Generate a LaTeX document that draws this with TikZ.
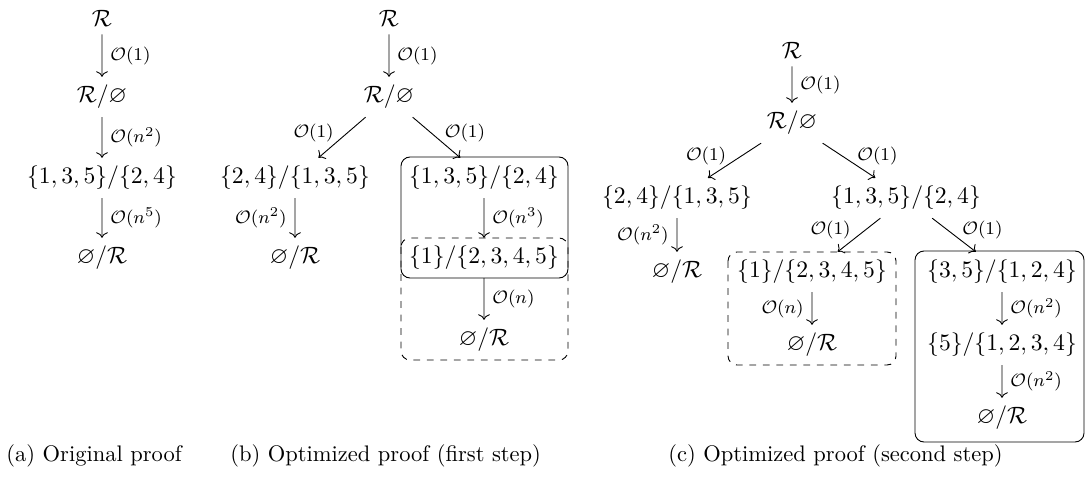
\documentclass[tikz,border=0pt]{standalone}
\usepackage{amsmath,amssymb}
\usepackage{tikz}
\usetikzlibrary{arrows.meta,positioning}

\begin{document}
\begin{tikzpicture}[x=0.4444pt, y=-0.4444pt,
    setnode/.style={font=\normalsize, scale=1.05},
    cost/.style={font=\footnotesize, inner sep=3.5pt},
    proofbox/.style={rounded corners=4pt},
    caption/.style={anchor=base west, inner sep=0pt}]
    \useasboundingbox (0,0) rectangle (1085,479);

    % (a) Original proof
    \node[setnode] (a0) at (102,18) {$\mathcal{R}$};
    \node[setnode] (a1) at (102,97) {$\mathcal{R}/\varnothing$};
    \node[setnode] (a2) at (102,178) {$\{1,3,5\}/\{2,4\}$};
    \node[setnode] (a3) at (102,258) {$\varnothing/\mathcal{R}$};
    \draw[->] (a0) -- node[cost, right] {$\mathcal{O}(1)$} (a1);
    \draw[->] (a1) -- node[cost, right] {$\mathcal{O}(n^2)$} (a2);
    \draw[->] (a2) -- node[cost, right] {$\mathcal{O}(n^5)$} (a3);

    % (b) Optimized proof (first step)
    \node[setnode] (b0) at (389,18) {$\mathcal{R}$};
    \node[setnode] (b1) at (389,97) {$\mathcal{R}/\varnothing$};
    \node[setnode] (b2) at (295,178) {$\{2,4\}/\{1,3,5\}$};
    \node[setnode] (b3) at (295,258) {$\varnothing/\mathcal{R}$};
    \node[setnode] (b4) at (484,178) {$\{1,3,5\}/\{2,4\}$};
    \node[setnode] (b5) at (484,258) {$\{1\}/\{2,3,4,5\}$};
    \node[setnode] (b6) at (484,340) {$\varnothing/\mathcal{R}$};
    \draw[->] (b0) -- node[cost, right] {$\mathcal{O}(1)$} (b1);
    \draw[->] (b1) -- node[cost, left, yshift=2.2pt] {$\mathcal{O}(1)$} (b2);
    \draw[->] (b1) -- node[cost, right, yshift=2.2pt] {$\mathcal{O}(1)$} (b4);
    \draw[->] (b2) -- node[cost, left] {$\mathcal{O}(n^2)$} (b3);
    \draw[->] (b4) -- node[cost, right] {$\mathcal{O}(n^3)$} (b5);
    \draw[->] (b5) -- node[cost, right] {$\mathcal{O}(n)$} (b6);
    \draw[proofbox] (401,157) rectangle (568,278);
    \draw[proofbox, dashed] (401,238) rectangle (568,360);

    % (c) Optimized proof (second step)
    \node[setnode] (c0) at (792,50) {$\mathcal{R}$};
    \node[setnode] (c1) at (792,123) {$\mathcal{R}/\varnothing$};
    \node[setnode] (c2) at (677,198) {$\{2,4\}/\{1,3,5\}$};
    \node[setnode] (c3) at (677,272) {$\varnothing/\mathcal{R}$};
    \node[setnode] (c4) at (906,198) {$\{1,3,5\}/\{2,4\}$};
    \node[setnode] (c5) at (812,272) {$\{1\}/\{2,3,4,5\}$};
    \node[setnode] (c6) at (812,345) {$\varnothing/\mathcal{R}$};
    \node[setnode] (c7) at (1002,272) {$\{3,5\}/\{1,2,4\}$};
    \node[setnode] (c8) at (1002,345) {$\{5\}/\{1,2,3,4\}$};
    \node[setnode] (c9) at (1002,418) {$\varnothing/\mathcal{R}$};
    \draw[->] (c0) -- node[cost, right] {$\mathcal{O}(1)$} (c1);
    \draw[->] (c1) -- node[cost, left, yshift=2.2pt] {$\mathcal{O}(1)$} (c2);
    \draw[->] (c1) -- node[cost, right, yshift=2.2pt] {$\mathcal{O}(1)$} (c4);
    \draw[->] (c2) -- node[cost, left] {$\mathcal{O}(n^2)$} (c3);
    \draw[->] (c4) -- node[cost, left, yshift=2.2pt] {$\mathcal{O}(1)$} (c5);
    \draw[->] (c4) -- node[cost, right, yshift=2.2pt] {$\mathcal{O}(1)$} (c7);
    \draw[->] (c5) -- node[cost, left] {$\mathcal{O}(n)$} (c6);
    \draw[->] (c7) -- node[cost, right] {$\mathcal{O}(n^2)$} (c8);
    \draw[->] (c8) -- node[cost, right] {$\mathcal{O}(n^2)$} (c9);
    \draw[proofbox, dashed] (728,252) rectangle (896,365);
    \draw[proofbox] (915,251) rectangle (1084,442);

    % Captions
    \node[caption] (capa) at (6,461) {(a) Original proof};
    \node[caption] (capb) at (230,461) {(b) Optimized proof (first step)};
    \node[caption] (capc) at (668,461) {(c) Optimized proof (second step)};
\end{tikzpicture}
\end{document}
